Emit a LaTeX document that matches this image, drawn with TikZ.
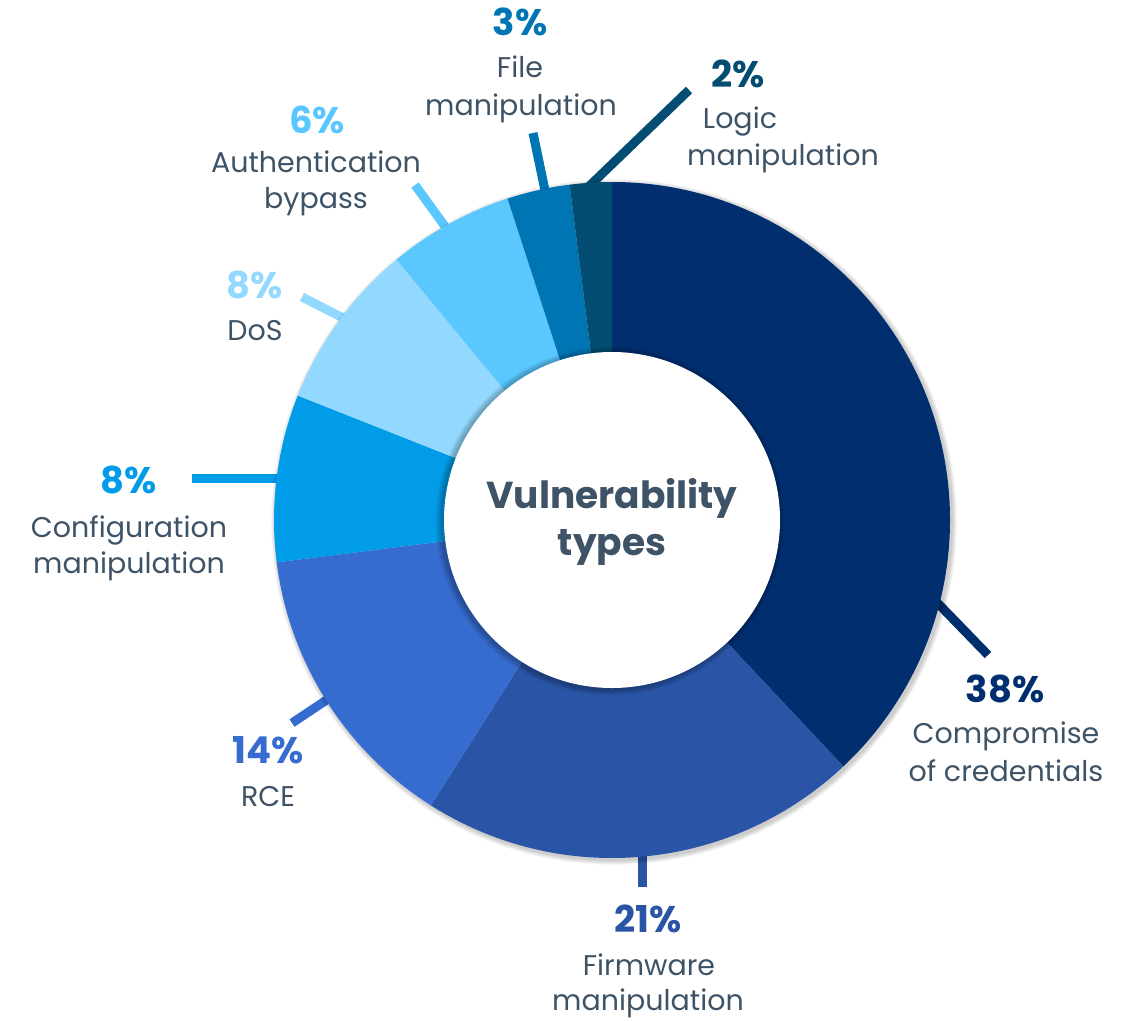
\documentclass[tikz,border=0pt]{standalone}
\usepackage{fontspec}
\setmainfont{Poppins}
\usetikzlibrary{calc}
\definecolor{cA}{HTML}{002E6E}
\definecolor{cB}{HTML}{2A54A5}
\definecolor{cC}{HTML}{366CCF}
\definecolor{cD}{HTML}{009CE8}
\definecolor{cE}{HTML}{93D9FF}
\definecolor{cF}{HTML}{5AC8FF}
\definecolor{cG}{HTML}{0075B4}
\definecolor{cH}{HTML}{044D72}
\definecolor{labelc}{HTML}{3E5366}
\tikzset{
  lbl/.style={font=\fontsize{28.5}{30}\selectfont, text=labelc, anchor=base, inner sep=0pt},
  pct/.style={font=\bfseries\fontsize{37}{40}\selectfont, anchor=base, inner sep=0pt},
  ctr/.style={font=\bfseries\fontsize{37.5}{46}\selectfont, text=labelc, anchor=base, inner sep=0pt},
  leader/.style={line width=9pt}
}
\begin{document}
\begin{tikzpicture}[x=1pt,y=1pt]
\useasboundingbox (0,0) rectangle (1135,-1020);
\coordinate (c) at (612,-520);
% leader coordinates
\coordinate (a1) at (925,-590); \coordinate (a2) at (988,-655);
\coordinate (b1) at (642,-840); \coordinate (b2) at (642,-887);
\coordinate (r1) at (340,-691); \coordinate (r2) at (292,-723);
\coordinate (d1) at (290,-478); \coordinate (d2) at (192,-478);
\coordinate (e1) at (355,-324); \coordinate (e2) at (302,-297);
\coordinate (f1) at (452,-236); \coordinate (f2) at (415,-185);
\coordinate (g1) at (547,-200); \coordinate (g2) at (533,-133);
\coordinate (h1) at (580,-195); \coordinate (h2) at (689,-90);
\draw[leader,cA] (a1) -- (a2);
\draw[leader,cB] (b1) -- (b2);
\draw[leader,cC] (r1) -- (r2);
\draw[leader,cD] (d1) -- (d2);
\draw[leader,cE] (e1) -- (e2);
\draw[leader,cF] (f1) -- (f2);
\draw[leader,cG] (g1) -- (g2);
\draw[leader,cH] (h1) -- (h2);
% outer shadow
\foreach \k in {1,...,6} {
  \fill[black, opacity=0.035] ($(c)+(2,-2)$) circle (338+\k*0.8);
}
% segments
\fill[cA] (c) -- ++(90:338) arc[start angle=90, end angle=-46.8, radius=338] -- cycle;
\fill[cB] (c) -- ++(-46.8:338) arc[start angle=-46.8, end angle=-122.4, radius=338] -- cycle;
\fill[cC] (c) -- ++(-122.4:338) arc[start angle=-122.4, end angle=-172.8, radius=338] -- cycle;
\fill[cD] (c) -- ++(-172.8:338) arc[start angle=-172.8, end angle=-201.6, radius=338] -- cycle;
\fill[cE] (c) -- ++(-201.6:338) arc[start angle=-201.6, end angle=-230.4, radius=338] -- cycle;
\fill[cF] (c) -- ++(-230.4:338) arc[start angle=-230.4, end angle=-252, radius=338] -- cycle;
\fill[cG] (c) -- ++(-252:338) arc[start angle=-252, end angle=-262.8, radius=338] -- cycle;
\fill[cH] (c) -- ++(-262.8:338) arc[start angle=-262.8, end angle=-270, radius=338] -- cycle;
% inner shadow
\foreach \k in {1,...,7} {
  \fill[black, opacity=0.04] ($(c)+(-2,-1)$) circle (168+\k*0.9);
}
\fill[white] (c) circle (168);
% centre text
\node[ctr] (t1) at (612,-508) {Vulnerability};
\node[ctr] (t2) at (612,-555) {types};
% labels
\node[pct,text=cA] (p1) at (1005,-702) {38\%};
\node[lbl] (l1a) at (1006,-743) {Compromise};
\node[lbl] (l1b) at (1006,-781) {of credentials};
\node[pct,text=cB] (p2) at (648,-932) {21\%};
\node[lbl] (l2a) at (649,-975) {Firmware};
\node[lbl] (l2b) at (648,-1010) {manipulation};
\node[pct,text=cC] (p3) at (268,-763) {14\%};
\node[lbl] (l3a) at (268,-806) {RCE};
\node[pct,text=cD] (p4) at (129,-493) {8\%};
\node[lbl] (l4a) at (129,-537) {Configuration};
\node[lbl] (l4b) at (129,-573) {manipulation};
\node[pct,text=cE] (p5) at (255,-298) {8\%};
\node[lbl] (l5a) at (255,-340) {DoS};
\node[pct,text=cF] (p6) at (317,-133) {6\%};
\node[lbl] (l6a) at (316,-172) {Authentication};
\node[lbl] (l6b) at (316,-208) {bypass};
\node[pct,text=cG] (p7) at (520,-35) {3\%};
\node[lbl] (l7a) at (520,-77) {File};
\node[lbl] (l7b) at (521,-115) {manipulation};
\node[pct,text=cH] (p8) at (738,-87) {2\%};
\node[lbl] (l8a) at (740,-128) {Logic};
\node[lbl] (l8b) at (783,-165) {manipulation};
\end{tikzpicture}
\end{document}
